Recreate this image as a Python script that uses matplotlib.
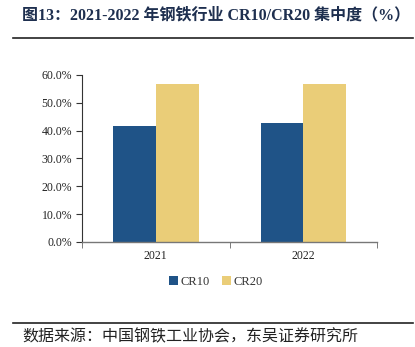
import matplotlib
matplotlib.use("Agg")
import matplotlib.pyplot as plt
from matplotlib.ticker import PercentFormatter, FixedLocator
from matplotlib.lines import Line2D

# chart data
years = ["2021", "2022"]
cr10 = [41.5, 42.9]
cr20 = [56.6, 56.6]
series_names = ["CR10", "CR20"]
yticks = [0, 10, 20, 30, 40, 50, 60]

title = "图13：2021-2022 年钢铁行业 CR10/CR20 集中度（%）"
source = "数据来源：中国钢铁工业协会，东吴证券研究所"

c_cr10 = "#1f5387"
c_cr20 = "#eacd78"
serif = ["Liberation Serif", "Noto Sans CJK SC"]
cjk = ["Noto Sans CJK SC", "DejaVu Sans"]

fig = plt.figure(figsize=(4.15, 3.47), dpi=100)
ax = fig.add_axes([0.1976, 0.3026, 0.711, 0.4813])

x = list(range(len(years)))
w = 0.29
ax.bar([i - w / 2 for i in x], cr10, width=w, color=c_cr10, label=series_names[0])
ax.bar([i + w / 2 for i in x], cr20, width=w, color=c_cr20, label=series_names[1])

ax.set_xlim(-0.5, len(years) - 0.5)
ax.set_ylim(0, 60)
ax.set_yticks(yticks)
ax.yaxis.set_major_formatter(PercentFormatter(decimals=1))
ax.set_xticks(x)
ax.set_xticklabels(years)
ax.xaxis.set_minor_locator(FixedLocator([-0.5, 0.5, 1.5]))
ax.tick_params(axis="x", which="major", length=0, pad=6)
ax.tick_params(axis="x", which="minor", length=4, color="#666666", direction="out")
ax.tick_params(axis="y", length=4, color="#333333", pad=3)

for lab in ax.get_xticklabels() + ax.get_yticklabels():
    lab.set_family(serif)
    lab.set_fontsize(8.5)
    lab.set_color("#222222")

for s in ["top", "right"]:
    ax.spines[s].set_visible(False)
ax.spines["left"].set_color("#333333")
ax.spines["left"].set_linewidth(0.8)
ax.spines["bottom"].set_color("#777777")
ax.spines["bottom"].set_linewidth(1.0)

leg = fig.legend(loc="center", bbox_to_anchor=(0.52, 0.187), ncol=2, frameon=False,
                 handlelength=0.7, handleheight=0.7, handletextpad=0.2,
                 columnspacing=1.0, prop={"family": serif, "size": 9})
for t in leg.get_texts():
    t.set_color("#333333")

# header and footer
fig.text(0.053, 0.957, title, family=serif, weight="bold", fontsize=11.5,
         color="#1e2f4f", va="center", ha="left")
fig.add_artist(Line2D([0.031, 0.995], [0.890, 0.890], color="#222222", lw=1.2))
fig.add_artist(Line2D([0.031, 0.995], [0.069, 0.069], color="#222222", lw=1.2))
fig.text(0.053, 0.029, source, family=cjk, fontsize=11.5, color="#222222",
         va="center", ha="left")

fig.savefig("out.png", dpi=100)
